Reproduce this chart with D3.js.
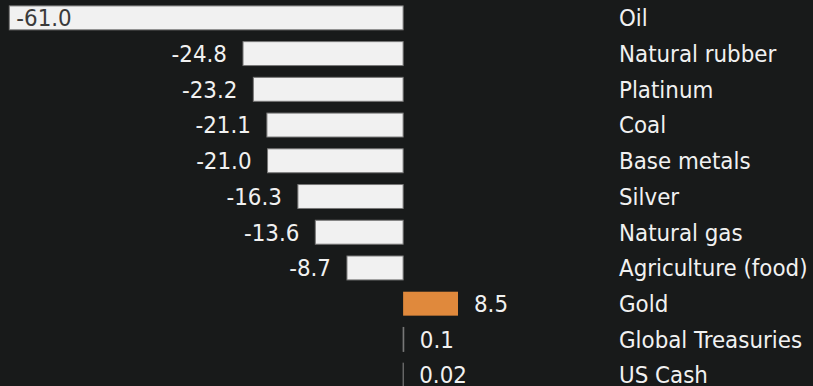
<!DOCTYPE html>
<html>
<head>
<meta charset="utf-8">
<script src="https://cdn.jsdelivr.net/npm/d3@7"></script>
<style>
  html, body { margin: 0; padding: 0; background: #181a1a; }
  svg { display: block; }
  text { font-family: "DejaVu Sans Condensed", "DejaVu Sans", sans-serif; font-stretch: condensed; }
</style>
</head>
<body>
<svg id="chart" width="813" height="386"></svg>
<script>
// Year-to-date returns by asset, %
const categories = ["Oil", "Natural rubber", "Platinum", "Coal", "Base metals", "Silver",
  "Natural gas", "Agriculture (food)", "Gold", "Global Treasuries", "US Cash"];
const values = [-61.0, -24.8, -23.2, -21.1, -21.0, -16.3, -13.6, -8.7, 8.5, 0.1, 0.02];
const valueLabels = ["-61.0", "-24.8", "-23.2", "-21.1", "-21.0", "-16.3", "-13.6", "-8.7", "8.5", "0.1", "0.02"];
const highlight = ["Gold"];

const W = 813, H = 386;
const svg = d3.select("#chart");
svg.append("rect").attr("width", W).attr("height", H).attr("fill", "#181a1a");

const x = d3.scaleLinear().domain([-61, 8.5]).range([9.3, 458]);
const y = d3.scaleBand().domain(categories).range([0, 393]).paddingInner(0.33).paddingOuter(0.165);

const rows = categories.map((c, i) => ({ cat: c, v: values[i], label: valueLabels[i] }));

const fontSize = 23.8;
const gap = 16;

const g = svg.append("g");

g.selectAll("rect.bar").data(rows).join("rect")
  .attr("class", "bar")
  .attr("x", d => x(Math.min(0, d.v)))
  .attr("y", d => y(d.cat))
  .attr("width", d => Math.abs(x(d.v) - x(0)))
  .attr("height", y.bandwidth())
  .attr("fill", d => highlight.includes(d.cat) ? "#e0893c" : "#f1f1f1")
  .attr("stroke", d => highlight.includes(d.cat) ? "none" : "#777")
  .attr("stroke-width", 1);

// value labels: inside the bar when there is no room on its left
g.selectAll("text.val").data(rows).join("text")
  .attr("class", "val")
  .attr("font-size", fontSize)
  .attr("dy", "0.35em")
  .attr("y", d => y(d.cat) + y.bandwidth() / 2)
  .each(function (d) {
    const t = d3.select(this).text(d.label);
    if (d.v < 0) {
      const xs = x(d.v) - gap;
      if (xs < 70) {
        t.attr("x", x(d.v) + 7).attr("text-anchor", "start").attr("fill", "#3a3a3a");
      } else {
        t.attr("x", xs).attr("text-anchor", "end").attr("fill", "#f1f1f1");
      }
    } else {
      t.attr("x", x(d.v) + gap).attr("text-anchor", "start").attr("fill", "#f1f1f1");
    }
  });

g.selectAll("text.cat").data(rows).join("text")
  .attr("class", "cat")
  .attr("font-size", fontSize)
  .attr("dy", "0.35em")
  .attr("x", 619)
  .attr("y", d => y(d.cat) + y.bandwidth() / 2)
  .attr("fill", "#f1f1f1")
  .text(d => d.cat);
</script>
</body>
</html>
